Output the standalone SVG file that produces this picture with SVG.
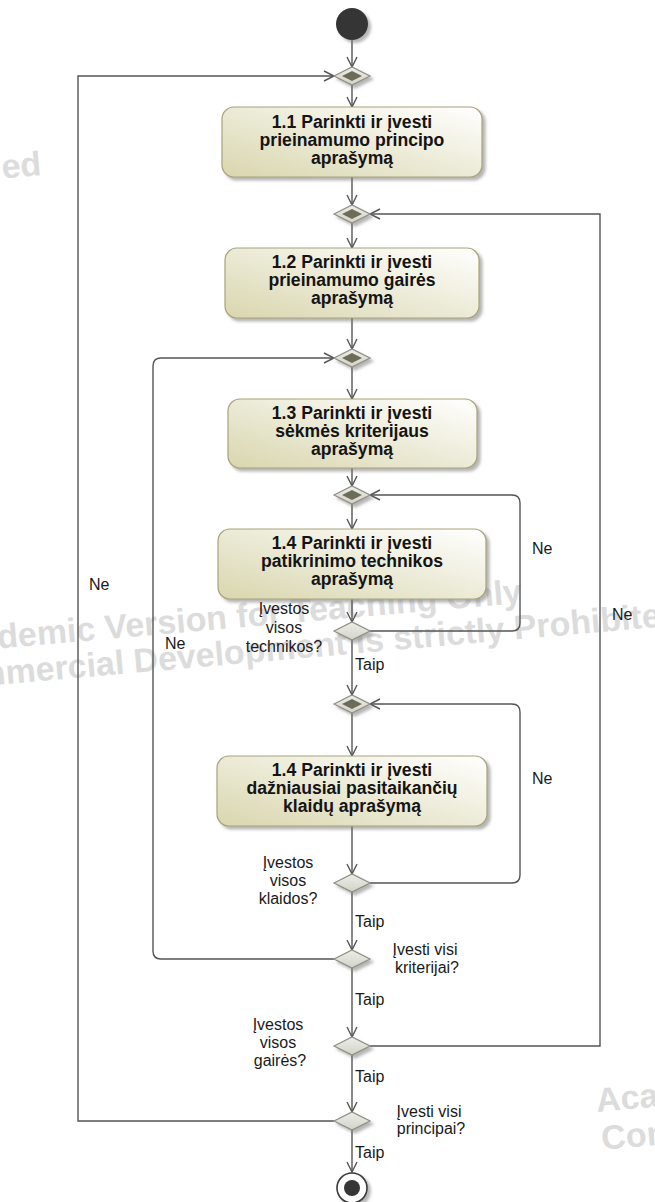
<svg xmlns="http://www.w3.org/2000/svg" width="655" height="1202" viewBox="0 0 655 1202">
  <style>
    .wm { font-family: "Liberation Sans", Arial, sans-serif; font-weight: bold; font-size: 34px; fill: #dcdcdc; }
    .act { fill: url(#actFill); stroke: #a7a37a; stroke-width: 1.2; filter: url(#shadow); }
    .act-t { font-family: "Liberation Sans", Arial, sans-serif; font-weight: bold; font-size: 17.6px; fill: #141414; text-anchor: middle; }
    .lbl { font-family: "Liberation Sans", Arial, sans-serif; font-size: 16px; fill: #1a1a1a; }
    .mid { text-anchor: middle; }
    .edge { fill: none; stroke: #555; stroke-width: 1.4; marker-end: url(#arrow); }
    .dec { fill: url(#decFill); stroke: #8e8e82; stroke-width: 1.2; filter: url(#shadow); }
    .mrg-in { fill: #6d6d57; }
  </style>
  <defs>
    <linearGradient id="actFill" x1="0" y1="1" x2="1" y2="0">
      <stop offset="0" stop-color="#d9d6ae"/>
      <stop offset="1" stop-color="#ffffff"/>
    </linearGradient>
    <linearGradient id="decFill" x1="0" y1="0" x2="0" y2="1">
      <stop offset="0" stop-color="#eeeeea"/>
      <stop offset="1" stop-color="#d2d2ca"/>
    </linearGradient>
    <filter id="shadow" x="-20%" y="-20%" width="140%" height="150%">
      <feDropShadow dx="3" dy="3" stdDeviation="1.5" flood-color="#7a7a7a" flood-opacity="0.55"/>
    </filter>
    <marker id="arrow" viewBox="0 0 12 12" markerWidth="12" markerHeight="12" refX="11" refY="6" orient="auto" markerUnits="userSpaceOnUse">
      <path d="M1,1 L11,6 L1,11" fill="none" stroke="#555" stroke-width="1.4"/>
    </marker>
  </defs>

  <!-- background watermark -->
  <g id="watermark">
    <text class="wm" x="42" y="175" text-anchor="end" transform="rotate(-5 42 175)">ed</text>
    <g transform="rotate(-5 -64 654)">
      <text class="wm" x="-64" y="654">Academic Version for Teaching Only</text>
      <text class="wm" x="-72" y="690">Commercial Development is strictly Prohibited</text>
    </g>
    <g transform="rotate(-5 597 1112)">
      <text class="wm" x="597" y="1112">Academic Version for Teaching Only</text>
      <text class="wm" x="599" y="1150">Commercial Development is strictly Prohibited</text>
    </g>
  </g>

  <!-- connectors -->
  <g id="connectors">
    <path class="edge" d="M352,40 V67"/>
    <path class="edge" d="M352,85 V107"/>
    <path class="edge" d="M352,177 V205"/>
    <path class="edge" d="M352,223 V248"/>
    <path class="edge" d="M352,318 V349"/>
    <path class="edge" d="M352,367 V399"/>
    <path class="edge" d="M352,468 V486"/>
    <path class="edge" d="M352,504 V529"/>
    <path class="edge" d="M352,599 V622"/>
    <path class="edge" d="M352,640 V695"/>
    <path class="edge" d="M352,713 V756"/>
    <path class="edge" d="M352,826 V874"/>
    <path class="edge" d="M352,892 V950"/>
    <path class="edge" d="M352,968 V1037"/>
    <path class="edge" d="M352,1055 V1112"/>
    <path class="edge" d="M352,1130 V1172"/>
    <!-- loop back: techniques -->
    <path class="edge" d="M370,631 H512 Q520,631 520,623 V503 Q520,495 512,495 H370"/>
    <!-- loop back: errors -->
    <path class="edge" d="M370,883 H512 Q520,883 520,875 V712 Q520,704 512,704 H370"/>
    <!-- loop back: criteria -->
    <path class="edge" d="M334,959 H161 Q153,959 153,951 V366 Q153,358 161,358 H334"/>
    <!-- loop back: guidelines -->
    <path class="edge" d="M370,1046 H600 V214 H370"/>
    <!-- loop back: principles -->
    <path class="edge" d="M334,1121 H78 V76 H334"/>

    <text class="lbl" x="532" y="554">Ne</text>
    <text class="lbl" x="532" y="784">Ne</text>
    <text class="lbl" x="165" y="649">Ne</text>
    <text class="lbl" x="612" y="620">Ne</text>
    <text class="lbl" x="89" y="590">Ne</text>
    <text class="lbl" x="355" y="670">Taip</text>
    <text class="lbl" x="355" y="927">Taip</text>
    <text class="lbl" x="355" y="1005">Taip</text>
    <text class="lbl" x="355" y="1082">Taip</text>
    <text class="lbl" x="355" y="1158">Taip</text>
  </g>

  <!-- initial node -->
  <g id="start">
    <circle cx="352" cy="24" r="16" fill="#363636" filter="url(#shadow)"/>
  </g>

  <!-- merge nodes -->
  <g id="mergeA">
    <polygon class="dec" points="334,76 352,67 370,76 352,85"/>
    <polygon class="mrg-in" points="342,76 352,71 362,76 352,81"/>
  </g>
  <g id="mergeB">
    <polygon class="dec" points="334,214 352,205 370,214 352,223"/>
    <polygon class="mrg-in" points="342,214 352,209 362,214 352,219"/>
  </g>
  <g id="mergeC">
    <polygon class="dec" points="334,358 352,349 370,358 352,367"/>
    <polygon class="mrg-in" points="342,358 352,353 362,358 352,363"/>
  </g>
  <g id="mergeD">
    <polygon class="dec" points="334,495 352,486 370,495 352,504"/>
    <polygon class="mrg-in" points="342,495 352,490 362,495 352,500"/>
  </g>
  <g id="mergeF">
    <polygon class="dec" points="334,704 352,695 370,704 352,713"/>
    <polygon class="mrg-in" points="342,704 352,699 362,704 352,709"/>
  </g>

  <!-- activities -->
  <g id="act11">
    <rect class="act" x="222" y="107" width="260" height="70" rx="12"/>
    <text class="act-t" x="352" y="128">1.1 Parinkti ir įvesti</text>
    <text class="act-t" x="352" y="146">prieinamumo principo</text>
    <text class="act-t" x="352" y="164">aprašymą</text>
  </g>
  <g id="act12">
    <rect class="act" x="225" y="248" width="254" height="70" rx="12"/>
    <text class="act-t" x="352" y="268">1.2 Parinkti ir įvesti</text>
    <text class="act-t" x="352" y="286">prieinamumo gairės</text>
    <text class="act-t" x="352" y="304">aprašymą</text>
  </g>
  <g id="act13">
    <rect class="act" x="228" y="399" width="249" height="69" rx="12"/>
    <text class="act-t" x="352" y="419">1.3 Parinkti ir įvesti</text>
    <text class="act-t" x="352" y="437">sėkmės kriterijaus</text>
    <text class="act-t" x="352" y="455">aprašymą</text>
  </g>
  <g id="act14a">
    <rect class="act" x="218" y="529" width="268" height="70" rx="12"/>
    <text class="act-t" x="352" y="549">1.4 Parinkti ir įvesti</text>
    <text class="act-t" x="352" y="567">patikrinimo technikos</text>
    <text class="act-t" x="352" y="585">aprašymą</text>
  </g>
  <g id="act14b">
    <rect class="act" x="217" y="756" width="270" height="70" rx="12"/>
    <text class="act-t" x="352" y="776">1.4 Parinkti ir įvesti</text>
    <text class="act-t" x="352" y="794">dažniausiai pasitaikančių</text>
    <text class="act-t" x="352" y="812">klaidų aprašymą</text>
  </g>

  <!-- decisions -->
  <g id="decE">
    <polygon class="dec" points="334,631 352,622 370,631 352,640"/>
    <text class="lbl mid" x="284" y="614">Įvestos</text>
    <text class="lbl mid" x="284" y="633">visos</text>
    <text class="lbl mid" x="284" y="652">technikos?</text>
  </g>
  <g id="decG">
    <polygon class="dec" points="334,883 352,874 370,883 352,892"/>
    <text class="lbl mid" x="288" y="868">Įvestos</text>
    <text class="lbl mid" x="288" y="886">visos</text>
    <text class="lbl mid" x="288" y="904">klaidos?</text>
  </g>
  <g id="decH">
    <polygon class="dec" points="334,959 352,950 370,959 352,968"/>
    <text class="lbl mid" x="425" y="955">Įvesti visi</text>
    <text class="lbl mid" x="427" y="973">kriterijai?</text>
  </g>
  <g id="decI">
    <polygon class="dec" points="334,1046 352,1037 370,1046 352,1055"/>
    <text class="lbl mid" x="278" y="1030">Įvestos</text>
    <text class="lbl mid" x="278" y="1048">visos</text>
    <text class="lbl mid" x="280" y="1066">gairės?</text>
  </g>
  <g id="decJ">
    <polygon class="dec" points="334,1121 352,1112 370,1121 352,1130"/>
    <text class="lbl mid" x="429" y="1117">Įvesti visi</text>
    <text class="lbl mid" x="431" y="1134">principai?</text>
  </g>

  <!-- final node -->
  <g id="final">
    <circle cx="352" cy="1188" r="15" fill="#ffffff" stroke="#3a3a3a" stroke-width="1.6" filter="url(#shadow)"/>
    <circle cx="352" cy="1188" r="8" fill="#363636"/>
  </g>
</svg>
